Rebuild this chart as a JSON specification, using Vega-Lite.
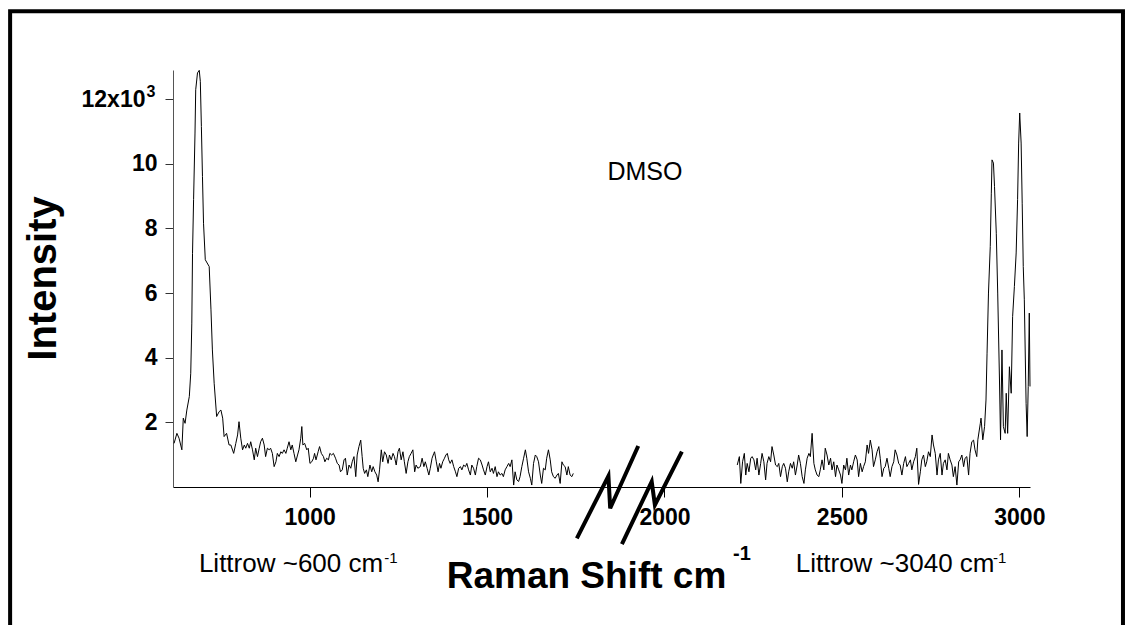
{
  "$schema": "https://vega.github.io/schema/vega-lite/v6.json",
  "width": 857,
  "height": 417,
  "autosize": {"type": "none"},
  "padding": {"left": 173, "top": 70, "right": 103, "bottom": 138},
  "background": "white",
  "config": {"view": {"stroke": null}, "font": "Liberation Sans", "text": {"font": "Liberation Sans"}},
  "datasets": {
    "spectrum": [
      {"shift":618,"intensity":1350,"window":"a"},{"shift":626,"intensity":1660,"window":"a"},{"shift":632,"intensity":1510,"window":"a"},{"shift":640,"intensity":1150,"window":"a"},{"shift":644,"intensity":2130,"window":"a"},{"shift":649,"intensity":1970,"window":"a"},{"shift":654,"intensity":2380,"window":"a"},{"shift":661,"intensity":2800,"window":"a"},{"shift":665,"intensity":3520,"window":"a"},{"shift":668,"intensity":5070,"window":"a"},{"shift":670,"intensity":7230,"window":"a"},{"shift":673,"intensity":8890,"window":"a"},{"shift":677,"intensity":10950,"window":"a"},{"shift":679,"intensity":12290,"window":"a"},{"shift":684,"intensity":12810,"window":"a"},{"shift":689,"intensity":12890,"window":"a"},{"shift":692,"intensity":12550,"window":"a"},{"shift":695,"intensity":11150,"window":"a"},{"shift":698,"intensity":9610,"window":"a"},{"shift":701,"intensity":8160,"window":"a"},{"shift":706,"intensity":7030,"window":"a"},{"shift":717,"intensity":6820,"window":"a"},{"shift":722,"intensity":5480,"window":"a"},{"shift":726,"intensity":4240,"window":"a"},{"shift":731,"intensity":3210,"window":"a"},{"shift":738,"intensity":2180,"window":"a"},{"shift":745,"intensity":2330,"window":"a"},{"shift":750,"intensity":2380,"window":"a"},{"shift":755,"intensity":2130,"window":"a"},{"shift":759,"intensity":1560,"window":"a"},{"shift":766,"intensity":1660,"window":"a"},{"shift":773,"intensity":1300,"window":"a"},{"shift":778,"intensity":1300,"window":"a"},{"shift":786,"intensity":1040,"window":"a"},{"shift":792,"intensity":1350,"window":"a"},{"shift":797,"intensity":1610,"window":"a"},{"shift":801,"intensity":2020,"window":"a"},{"shift":806,"intensity":1510,"window":"a"},{"shift":811,"intensity":1150,"window":"a"},{"shift":816,"intensity":1300,"window":"a"},{"shift":820,"intensity":1200,"window":"a"},{"shift":825,"intensity":1350,"window":"a"},{"shift":830,"intensity":1200,"window":"a"},{"shift":834,"intensity":1400,"window":"a"},{"shift":839,"intensity":1150,"window":"a"},{"shift":844,"intensity":840,"window":"a"},{"shift":848,"intensity":1200,"window":"a"},{"shift":853,"intensity":940,"window":"a"},{"shift":858,"intensity":1200,"window":"a"},{"shift":862,"intensity":1400,"window":"a"},{"shift":867,"intensity":1510,"window":"a"},{"shift":872,"intensity":1300,"window":"a"},{"shift":876,"intensity":940,"window":"a"},{"shift":881,"intensity":1200,"window":"a"},{"shift":886,"intensity":1150,"window":"a"},{"shift":890,"intensity":1200,"window":"a"},{"shift":895,"intensity":1040,"window":"a"},{"shift":900,"intensity":630,"window":"a"},{"shift":905,"intensity":780,"window":"a"},{"shift":909,"intensity":1040,"window":"a"},{"shift":914,"intensity":940,"window":"a"},{"shift":919,"intensity":1090,"window":"a"},{"shift":923,"intensity":1040,"window":"a"},{"shift":928,"intensity":1150,"window":"a"},{"shift":933,"intensity":1040,"window":"a"},{"shift":937,"intensity":1200,"window":"a"},{"shift":942,"intensity":1400,"window":"a"},{"shift":947,"intensity":1150,"window":"a"},{"shift":951,"intensity":1300,"window":"a"},{"shift":956,"intensity":1040,"window":"a"},{"shift":961,"intensity":780,"window":"a"},{"shift":966,"intensity":990,"window":"a"},{"shift":970,"intensity":1150,"window":"a"},{"shift":975,"intensity":1510,"window":"a"},{"shift":978,"intensity":1870,"window":"a"},{"shift":981,"intensity":1300,"window":"a"},{"shift":986,"intensity":1350,"window":"a"},{"shift":992,"intensity":1150,"window":"a"},{"shift":996,"intensity":1200,"window":"a"},{"shift":1001,"intensity":730,"window":"a"},{"shift":1006,"intensity":780,"window":"a"},{"shift":1011,"intensity":890,"window":"a"},{"shift":1014,"intensity":1040,"window":"a"},{"shift":1018,"intensity":840,"window":"a"},{"shift":1024,"intensity":1090,"window":"a"},{"shift":1028,"intensity":1250,"window":"a"},{"shift":1033,"intensity":1040,"window":"a"},{"shift":1039,"intensity":940,"window":"a"},{"shift":1043,"intensity":780,"window":"a"},{"shift":1048,"intensity":890,"window":"a"},{"shift":1053,"intensity":840,"window":"a"},{"shift":1057,"intensity":1040,"window":"a"},{"shift":1062,"intensity":990,"window":"a"},{"shift":1067,"intensity":1040,"window":"a"},{"shift":1073,"intensity":890,"window":"a"},{"shift":1078,"intensity":730,"window":"a"},{"shift":1083,"intensity":680,"window":"a"},{"shift":1087,"intensity":470,"window":"a"},{"shift":1092,"intensity":530,"window":"a"},{"shift":1097,"intensity":840,"window":"a"},{"shift":1101,"intensity":890,"window":"a"},{"shift":1106,"intensity":370,"window":"a"},{"shift":1111,"intensity":680,"window":"a"},{"shift":1116,"intensity":580,"window":"a"},{"shift":1120,"intensity":780,"window":"a"},{"shift":1125,"intensity":940,"window":"a"},{"shift":1130,"intensity":320,"window":"a"},{"shift":1134,"intensity":990,"window":"a"},{"shift":1139,"intensity":1250,"window":"a"},{"shift":1144,"intensity":1450,"window":"a"},{"shift":1148,"intensity":940,"window":"a"},{"shift":1151,"intensity":580,"window":"a"},{"shift":1155,"intensity":420,"window":"a"},{"shift":1160,"intensity":530,"window":"a"},{"shift":1164,"intensity":320,"window":"a"},{"shift":1170,"intensity":680,"window":"a"},{"shift":1175,"intensity":470,"window":"a"},{"shift":1179,"intensity":630,"window":"a"},{"shift":1184,"intensity":470,"window":"a"},{"shift":1189,"intensity":370,"window":"a"},{"shift":1193,"intensity":160,"window":"a"},{"shift":1197,"intensity":530,"window":"a"},{"shift":1202,"intensity":1150,"window":"a"},{"shift":1206,"intensity":780,"window":"a"},{"shift":1211,"intensity":1090,"window":"a"},{"shift":1216,"intensity":990,"window":"a"},{"shift":1221,"intensity":730,"window":"a"},{"shift":1225,"intensity":990,"window":"a"},{"shift":1230,"intensity":840,"window":"a"},{"shift":1235,"intensity":1040,"window":"a"},{"shift":1239,"intensity":940,"window":"a"},{"shift":1244,"intensity":680,"window":"a"},{"shift":1249,"intensity":1090,"window":"a"},{"shift":1253,"intensity":1200,"window":"a"},{"shift":1258,"intensity":840,"window":"a"},{"shift":1263,"intensity":1090,"window":"a"},{"shift":1267,"intensity":780,"window":"a"},{"shift":1272,"intensity":420,"window":"a"},{"shift":1277,"intensity":780,"window":"a"},{"shift":1281,"intensity":940,"window":"a"},{"shift":1286,"intensity":1040,"window":"a"},{"shift":1291,"intensity":1150,"window":"a"},{"shift":1296,"intensity":470,"window":"a"},{"shift":1300,"intensity":680,"window":"a"},{"shift":1305,"intensity":580,"window":"a"},{"shift":1312,"intensity":630,"window":"a"},{"shift":1317,"intensity":890,"window":"a"},{"shift":1322,"intensity":630,"window":"a"},{"shift":1326,"intensity":780,"window":"a"},{"shift":1331,"intensity":580,"window":"a"},{"shift":1336,"intensity":370,"window":"a"},{"shift":1340,"intensity":580,"window":"a"},{"shift":1345,"intensity":890,"window":"a"},{"shift":1350,"intensity":1040,"window":"a"},{"shift":1352,"intensity":1090,"window":"a"},{"shift":1357,"intensity":780,"window":"a"},{"shift":1362,"intensity":470,"window":"a"},{"shift":1366,"intensity":730,"window":"a"},{"shift":1370,"intensity":580,"window":"a"},{"shift":1375,"intensity":780,"window":"a"},{"shift":1380,"intensity":890,"window":"a"},{"shift":1384,"intensity":990,"window":"a"},{"shift":1388,"intensity":1040,"window":"a"},{"shift":1392,"intensity":840,"window":"a"},{"shift":1396,"intensity":730,"window":"a"},{"shift":1401,"intensity":840,"window":"a"},{"shift":1406,"intensity":630,"window":"a"},{"shift":1411,"intensity":470,"window":"a"},{"shift":1415,"intensity":320,"window":"a"},{"shift":1420,"intensity":580,"window":"a"},{"shift":1425,"intensity":630,"window":"a"},{"shift":1429,"intensity":530,"window":"a"},{"shift":1434,"intensity":680,"window":"a"},{"shift":1439,"intensity":630,"window":"a"},{"shift":1443,"intensity":730,"window":"a"},{"shift":1448,"intensity":530,"window":"a"},{"shift":1453,"intensity":370,"window":"a"},{"shift":1457,"intensity":680,"window":"a"},{"shift":1462,"intensity":580,"window":"a"},{"shift":1467,"intensity":370,"window":"a"},{"shift":1471,"intensity":630,"window":"a"},{"shift":1476,"intensity":890,"window":"a"},{"shift":1481,"intensity":840,"window":"a"},{"shift":1486,"intensity":680,"window":"a"},{"shift":1490,"intensity":530,"window":"a"},{"shift":1495,"intensity":370,"window":"a"},{"shift":1500,"intensity":630,"window":"a"},{"shift":1504,"intensity":780,"window":"a"},{"shift":1509,"intensity":470,"window":"a"},{"shift":1514,"intensity":580,"window":"a"},{"shift":1518,"intensity":420,"window":"a"},{"shift":1523,"intensity":630,"window":"a"},{"shift":1528,"intensity":320,"window":"a"},{"shift":1532,"intensity":470,"window":"a"},{"shift":1537,"intensity":370,"window":"a"},{"shift":1542,"intensity":420,"window":"a"},{"shift":1546,"intensity":320,"window":"a"},{"shift":1551,"intensity":530,"window":"a"},{"shift":1556,"intensity":630,"window":"a"},{"shift":1561,"intensity":730,"window":"a"},{"shift":1565,"intensity":630,"window":"a"},{"shift":1570,"intensity":840,"window":"a"},{"shift":1575,"intensity":60,"window":"a"},{"shift":1579,"intensity":470,"window":"a"},{"shift":1584,"intensity":220,"window":"a"},{"shift":1589,"intensity":170,"window":"a"},{"shift":1593,"intensity":320,"window":"a"},{"shift":1598,"intensity":630,"window":"a"},{"shift":1603,"intensity":890,"window":"a"},{"shift":1608,"intensity":1150,"window":"a"},{"shift":1612,"intensity":890,"window":"a"},{"shift":1617,"intensity":470,"window":"a"},{"shift":1622,"intensity":270,"window":"a"},{"shift":1626,"intensity":60,"window":"a"},{"shift":1631,"intensity":730,"window":"a"},{"shift":1636,"intensity":990,"window":"a"},{"shift":1640,"intensity":940,"window":"a"},{"shift":1645,"intensity":780,"window":"a"},{"shift":1650,"intensity":370,"window":"a"},{"shift":1654,"intensity":110,"window":"a"},{"shift":1659,"intensity":580,"window":"a"},{"shift":1664,"intensity":530,"window":"a"},{"shift":1668,"intensity":890,"window":"a"},{"shift":1673,"intensity":1150,"window":"a"},{"shift":1678,"intensity":840,"window":"a"},{"shift":1682,"intensity":470,"window":"a"},{"shift":1687,"intensity":320,"window":"a"},{"shift":1692,"intensity":270,"window":"a"},{"shift":1697,"intensity":370,"window":"a"},{"shift":1701,"intensity":420,"window":"a"},{"shift":1706,"intensity":110,"window":"a"},{"shift":1711,"intensity":780,"window":"a"},{"shift":1715,"intensity":680,"window":"a"},{"shift":1720,"intensity":630,"window":"a"},{"shift":1725,"intensity":370,"window":"a"},{"shift":1729,"intensity":630,"window":"a"},{"shift":1734,"intensity":370,"window":"a"},{"shift":1739,"intensity":320,"window":"a"},{"shift":1743,"intensity":420,"window":"a"},
      {"shift":2205,"intensity":680,"window":"b"},{"shift":2211,"intensity":940,"window":"b"},{"shift":2215,"intensity":110,"window":"b"},{"shift":2220,"intensity":780,"window":"b"},{"shift":2225,"intensity":1040,"window":"b"},{"shift":2229,"intensity":370,"window":"b"},{"shift":2233,"intensity":730,"window":"b"},{"shift":2238,"intensity":470,"window":"b"},{"shift":2243,"intensity":890,"window":"b"},{"shift":2247,"intensity":940,"window":"b"},{"shift":2252,"intensity":840,"window":"b"},{"shift":2257,"intensity":530,"window":"b"},{"shift":2261,"intensity":890,"window":"b"},{"shift":2266,"intensity":370,"window":"b"},{"shift":2271,"intensity":730,"window":"b"},{"shift":2275,"intensity":1040,"window":"b"},{"shift":2280,"intensity":780,"window":"b"},{"shift":2285,"intensity":220,"window":"b"},{"shift":2289,"intensity":730,"window":"b"},{"shift":2294,"intensity":940,"window":"b"},{"shift":2299,"intensity":780,"window":"b"},{"shift":2303,"intensity":1250,"window":"b"},{"shift":2308,"intensity":990,"window":"b"},{"shift":2313,"intensity":680,"window":"b"},{"shift":2318,"intensity":630,"window":"b"},{"shift":2322,"intensity":730,"window":"b"},{"shift":2327,"intensity":320,"window":"b"},{"shift":2332,"intensity":630,"window":"b"},{"shift":2336,"intensity":730,"window":"b"},{"shift":2341,"intensity":580,"window":"b"},{"shift":2346,"intensity":160,"window":"b"},{"shift":2350,"intensity":470,"window":"b"},{"shift":2355,"intensity":730,"window":"b"},{"shift":2360,"intensity":580,"window":"b"},{"shift":2364,"intensity":780,"window":"b"},{"shift":2369,"intensity":370,"window":"b"},{"shift":2374,"intensity":680,"window":"b"},{"shift":2378,"intensity":990,"window":"b"},{"shift":2383,"intensity":730,"window":"b"},{"shift":2388,"intensity":320,"window":"b"},{"shift":2393,"intensity":110,"window":"b"},{"shift":2397,"intensity":530,"window":"b"},{"shift":2402,"intensity":890,"window":"b"},{"shift":2407,"intensity":1040,"window":"b"},{"shift":2411,"intensity":940,"window":"b"},{"shift":2416,"intensity":1660,"window":"b"},{"shift":2421,"intensity":730,"window":"b"},{"shift":2425,"intensity":530,"window":"b"},{"shift":2430,"intensity":370,"window":"b"},{"shift":2435,"intensity":320,"window":"b"},{"shift":2439,"intensity":530,"window":"b"},{"shift":2444,"intensity":840,"window":"b"},{"shift":2449,"intensity":530,"window":"b"},{"shift":2453,"intensity":1200,"window":"b"},{"shift":2458,"intensity":990,"window":"b"},{"shift":2463,"intensity":680,"window":"b"},{"shift":2468,"intensity":890,"window":"b"},{"shift":2472,"intensity":530,"window":"b"},{"shift":2477,"intensity":780,"window":"b"},{"shift":2482,"intensity":320,"window":"b"},{"shift":2486,"intensity":680,"window":"b"},{"shift":2491,"intensity":530,"window":"b"},{"shift":2496,"intensity":370,"window":"b"},{"shift":2500,"intensity":110,"window":"b"},{"shift":2505,"intensity":680,"window":"b"},{"shift":2510,"intensity":530,"window":"b"},{"shift":2514,"intensity":890,"window":"b"},{"shift":2519,"intensity":370,"window":"b"},{"shift":2524,"intensity":680,"window":"b"},{"shift":2528,"intensity":530,"window":"b"},{"shift":2533,"intensity":780,"window":"b"},{"shift":2538,"intensity":990,"window":"b"},{"shift":2543,"intensity":840,"window":"b"},{"shift":2547,"intensity":320,"window":"b"},{"shift":2552,"intensity":730,"window":"b"},{"shift":2557,"intensity":470,"window":"b"},{"shift":2561,"intensity":630,"window":"b"},{"shift":2566,"intensity":780,"window":"b"},{"shift":2571,"intensity":1300,"window":"b"},{"shift":2575,"intensity":1040,"window":"b"},{"shift":2580,"intensity":1450,"window":"b"},{"shift":2585,"intensity":1150,"window":"b"},{"shift":2589,"intensity":630,"window":"b"},{"shift":2594,"intensity":840,"window":"b"},{"shift":2599,"intensity":1090,"window":"b"},{"shift":2604,"intensity":1250,"window":"b"},{"shift":2608,"intensity":890,"window":"b"},{"shift":2613,"intensity":320,"window":"b"},{"shift":2618,"intensity":580,"window":"b"},{"shift":2622,"intensity":630,"window":"b"},{"shift":2627,"intensity":890,"window":"b"},{"shift":2632,"intensity":580,"window":"b"},{"shift":2636,"intensity":320,"window":"b"},{"shift":2641,"intensity":630,"window":"b"},{"shift":2646,"intensity":780,"window":"b"},{"shift":2650,"intensity":1150,"window":"b"},{"shift":2655,"intensity":990,"window":"b"},{"shift":2660,"intensity":730,"window":"b"},{"shift":2664,"intensity":680,"window":"b"},{"shift":2669,"intensity":370,"window":"b"},{"shift":2674,"intensity":730,"window":"b"},{"shift":2679,"intensity":940,"window":"b"},{"shift":2683,"intensity":630,"window":"b"},{"shift":2688,"intensity":730,"window":"b"},{"shift":2693,"intensity":840,"window":"b"},{"shift":2697,"intensity":530,"window":"b"},{"shift":2702,"intensity":780,"window":"b"},{"shift":2707,"intensity":940,"window":"b"},{"shift":2711,"intensity":1200,"window":"b"},{"shift":2716,"intensity":80,"window":"b"},{"shift":2721,"intensity":470,"window":"b"},{"shift":2725,"intensity":840,"window":"b"},{"shift":2730,"intensity":990,"window":"b"},{"shift":2735,"intensity":630,"window":"b"},{"shift":2739,"intensity":780,"window":"b"},{"shift":2744,"intensity":1090,"window":"b"},{"shift":2749,"intensity":940,"window":"b"},{"shift":2754,"intensity":1610,"window":"b"},{"shift":2758,"intensity":1300,"window":"b"},{"shift":2763,"intensity":1040,"window":"b"},{"shift":2768,"intensity":370,"window":"b"},{"shift":2772,"intensity":840,"window":"b"},{"shift":2777,"intensity":1040,"window":"b"},{"shift":2782,"intensity":370,"window":"b"},{"shift":2786,"intensity":730,"window":"b"},{"shift":2791,"intensity":840,"window":"b"},{"shift":2796,"intensity":530,"window":"b"},{"shift":2800,"intensity":1040,"window":"b"},{"shift":2805,"intensity":840,"window":"b"},{"shift":2810,"intensity":680,"window":"b"},{"shift":2814,"intensity":320,"window":"b"},{"shift":2819,"intensity":630,"window":"b"},{"shift":2824,"intensity":60,"window":"b"},{"shift":2829,"intensity":780,"window":"b"},{"shift":2833,"intensity":840,"window":"b"},{"shift":2838,"intensity":990,"window":"b"},{"shift":2843,"intensity":630,"window":"b"},{"shift":2847,"intensity":890,"window":"b"},{"shift":2852,"intensity":940,"window":"b"},{"shift":2857,"intensity":370,"window":"b"},{"shift":2861,"intensity":1040,"window":"b"},{"shift":2866,"intensity":1400,"window":"b"},{"shift":2871,"intensity":1450,"window":"b"},{"shift":2875,"intensity":1150,"window":"b"},{"shift":2880,"intensity":940,"window":"b"},{"shift":2883,"intensity":1460,"window":"b"},{"shift":2890,"intensity":1970,"window":"b"},{"shift":2892,"intensity":2130,"window":"b"},{"shift":2897,"intensity":1460,"window":"b"},{"shift":2902,"intensity":1870,"window":"b"},{"shift":2906,"intensity":2690,"window":"b"},{"shift":2909,"intensity":4140,"window":"b"},{"shift":2913,"intensity":6000,"window":"b"},{"shift":2918,"intensity":7440,"window":"b"},{"shift":2921,"intensity":9090,"window":"b"},{"shift":2923,"intensity":10120,"window":"b"},{"shift":2927,"intensity":10020,"window":"b"},{"shift":2930,"intensity":9300,"window":"b"},{"shift":2935,"intensity":7850,"window":"b"},{"shift":2939,"intensity":6000,"window":"b"},{"shift":2944,"intensity":3310,"window":"b"},{"shift":2947,"intensity":1460,"window":"b"},{"shift":2951,"intensity":4240,"window":"b"},{"shift":2955,"intensity":1870,"window":"b"},{"shift":2960,"intensity":1660,"window":"b"},{"shift":2963,"intensity":2900,"window":"b"},{"shift":2967,"intensity":1660,"window":"b"},{"shift":2972,"intensity":3720,"window":"b"},{"shift":2977,"intensity":2900,"window":"b"},{"shift":2981,"intensity":5270,"window":"b"},{"shift":2986,"intensity":6200,"window":"b"},{"shift":2991,"intensity":7240,"window":"b"},{"shift":2995,"intensity":8890,"window":"b"},{"shift":2998,"intensity":10640,"window":"b"},{"shift":3001,"intensity":11570,"window":"b"},{"shift":3005,"intensity":10640,"window":"b"},{"shift":3008,"intensity":8780,"window":"b"},{"shift":3011,"intensity":6820,"window":"b"},{"shift":3014,"intensity":5790,"window":"b"},{"shift":3019,"intensity":2590,"window":"b"},{"shift":3022,"intensity":1560,"window":"b"},{"shift":3025,"intensity":3110,"window":"b"},{"shift":3028,"intensity":5380,"window":"b"},{"shift":3030,"intensity":3110,"window":"b"}
    ],
    "breaks": [
      {"mark":"1","order":1,"shift":1753,"intensity":-1588},{"mark":"1","order":2,"shift":1842,"intensity":341},{"mark":"1","order":3,"shift":1847,"intensity":-659},{"mark":"1","order":4,"shift":1926,"intensity":1269},
      {"mark":"2","order":1,"shift":1880,"intensity":-1765},{"mark":"2","order":2,"shift":1964,"intensity":164},{"mark":"2","order":3,"shift":1973,"intensity":-557},{"mark":"2","order":4,"shift":2049,"intensity":1093}
    ]
  },
  "encoding": {
    "x": {
      "field": "shift", "type": "quantitative",
      "scale": {"domain": [615, 3030], "nice": false, "zero": false},
      "axis": {
        "values": [1000, 1500, 2000, 2500, 3000], "format": "d", "grid": false,
        "labelFont": "Liberation Sans", "labelFontSize": 23, "labelFontWeight": "bold", "labelColor": "black",
        "tickSize": 10, "labelPadding": 9, "domainColor": "black", "tickColor": "black", "domainWidth": 1.2,
        "title": "Raman Shift cm", "titleFont": "Liberation Sans", "titleFontSize": 37, "titleFontWeight": "bold", "titleColor": "black",
        "titleX": 413, "titleY": 100, "titleBaseline": "alphabetic", "titleAlign": "center"
      }
    },
    "y": {
      "field": "intensity", "type": "quantitative",
      "scale": {"domain": [0, 12900], "nice": false},
      "axis": {
        "values": [2000, 4000, 6000, 8000, 10000, 12000], "grid": false,
        "labelExpr": "datum.value == 12000 ? '12x10' : format(datum.value / 1000, 'd')",
        "labelFont": "Liberation Sans", "labelFontSize": 23, "labelFontWeight": "bold", "labelColor": "black",
        "tickSize": 8, "labelPadding": {"condition": {"test": "datum.value == 12000", "value": 20}, "value": 8},
        "domainColor": "#555", "tickColor": "#333",
        "title": "Intensity", "titleFont": "Liberation Sans", "titleFontSize": 40, "titleFontWeight": "bold", "titleColor": "black",
        "titleAngle": -90, "titleX": -118, "titleY": 208, "titleBaseline": "alphabetic", "titleAlign": "center"
      }
    }
  },
  "layer": [
    {
      "data": {"values": [{"shift": 156, "shift2": 3292, "intensity": 14720, "intensity2": -4730}]},
      "mark": {"type": "rect", "filled": false, "stroke": "black", "strokeWidth": 4, "clip": false},
      "encoding": {"x2": {"field": "shift2"}, "y2": {"field": "intensity2"}}
    },
    {
      "data": {"name": "spectrum"},
      "mark": {"type": "line", "stroke": "black", "strokeWidth": 1, "clip": false},
      "encoding": {"detail": {"field": "window"}}
    },
    {
      "data": {"name": "breaks"},
      "mark": {"type": "line", "stroke": "black", "strokeWidth": 4, "clip": false},
      "encoding": {"detail": {"field": "mark"}, "order": {"field": "order"}}
    },
    {
      "data": {"values": [{"shift": 1945, "intensity": 9750, "label": "DMSO"}]},
      "mark": {"type": "text", "fontSize": 25, "align": "center", "baseline": "middle", "color": "black", "clip": false},
      "encoding": {"text": {"field": "label"}}
    },
    {
      "data": {"values": [{"shift": 688, "intensity": -2630, "label": "Littrow ~600 cm"}, {"shift": 2370, "intensity": -2630, "label": "Littrow ~3040 cm"}]},
      "mark": {"type": "text", "fontSize": 26, "align": "left", "baseline": "alphabetic", "color": "black", "clip": false},
      "encoding": {"text": {"field": "label"}}
    },
    {
      "data": {"values": [{"shift": 1210, "intensity": -2350, "label": "-1"}, {"shift": 2926, "intensity": -2350, "label": "-1"}]},
      "mark": {"type": "text", "fontSize": 15, "align": "left", "baseline": "alphabetic", "color": "black", "clip": false},
      "encoding": {"text": {"field": "label"}}
    },
    {
      "data": {"values": [{"shift": 2193, "intensity": -2260, "label": "-1"}]},
      "mark": {"type": "text", "fontSize": 20, "fontWeight": "bold", "align": "left", "baseline": "alphabetic", "color": "black", "clip": false},
      "encoding": {"text": {"field": "label"}}
    },
    {
      "data": {"values": [{"shift": 540, "intensity": 12060, "label": "3"}]},
      "mark": {"type": "text", "fontSize": 16, "fontWeight": "bold", "align": "left", "baseline": "alphabetic", "color": "black", "clip": false},
      "encoding": {"text": {"field": "label"}}
    }
  ]
}
